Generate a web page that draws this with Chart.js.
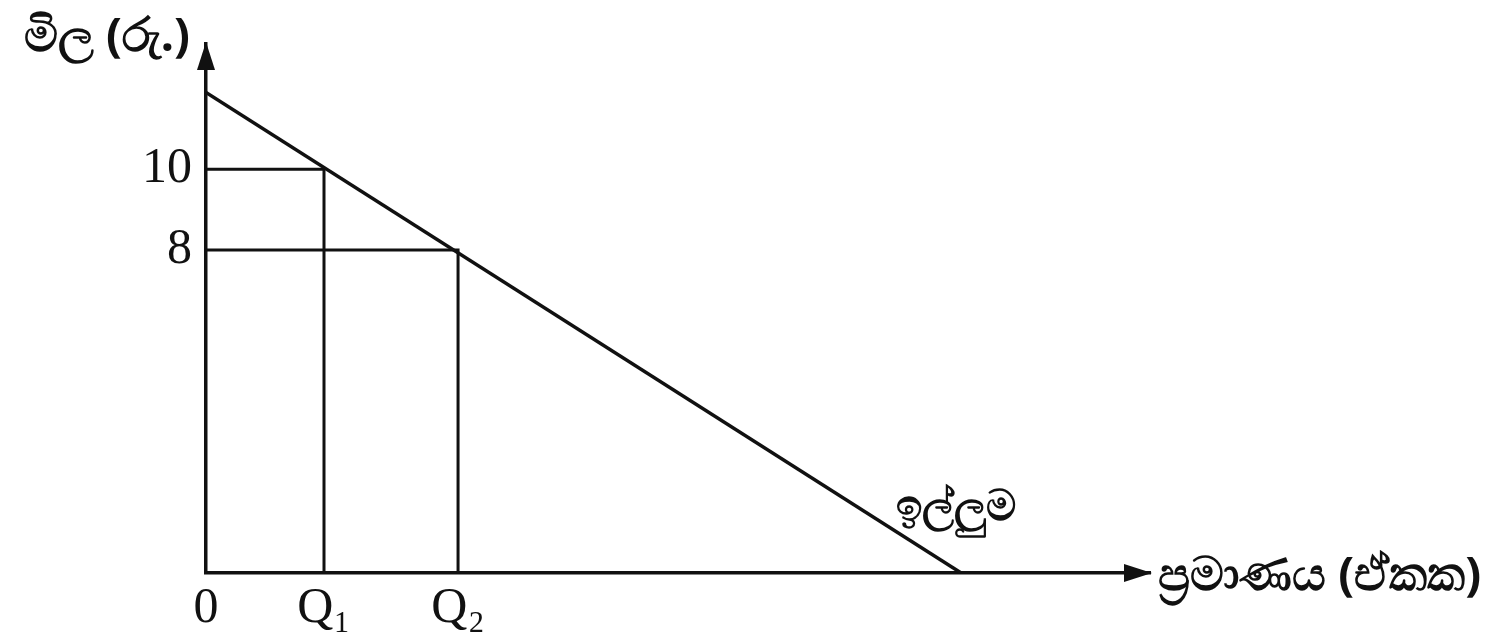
<!DOCTYPE html>
<html>
<head>
<meta charset="utf-8">
<script src="https://cdn.jsdelivr.net/npm/chart.js@4"></script>
<style>
  html, body { margin: 0; padding: 0; background: #fff; }
  #wrap { width: 1511px; height: 642px; }
</style>
</head>
<body>
<div id="wrap"><canvas id="chart"></canvas></div>
<script>
// values (arbitrary units, quantity axis 0..10)
const priceLevels = [10, 8];
const priceLabels = ["10", "8"];
const qtyLevels = [0, 1.25, 2.67];
const qtyLabels = ["0", "Q\u2081", "Q\u2082"];
const demandQty = [0, 8];
const demandPrice = [11.9, 0];

const yTitle = "මිල (රු.)";
const xTitle = "ප්‍රමාණය (ඒකක)";
const curveName = "ඉල්ලුම";

const serif = "'Liberation Serif', 'DejaVu Serif', serif";

const demand = demandQty.map((q, i) => ({ x: q, y: demandPrice[i] }));
// drop lines from the axis to the curve and back down
const guides = priceLevels.map((p, i) => [
  { x: 0, y: p },
  { x: qtyLevels[i + 1], y: p },
  { x: qtyLevels[i + 1], y: 0 }
]);

const lineStyle = { borderColor: "#111", borderWidth: 3.5, pointRadius: 0, fill: false, tension: 0 };

// arrows + texts
const extras = {
  id: "extras",
  afterDraw(chart) {
    const { ctx, chartArea: a, scales: { x, y } } = chart;
    ctx.save();
    ctx.fillStyle = "#111";
    // y arrow
    ctx.beginPath();
    ctx.moveTo(a.left, a.top - 2);
    ctx.lineTo(a.left - 9, a.top + 26);
    ctx.lineTo(a.left + 9, a.top + 26);
    ctx.closePath();
    ctx.fill();
    // x arrow
    ctx.beginPath();
    ctx.moveTo(a.right + 2, a.bottom);
    ctx.lineTo(a.right - 26, a.bottom - 9);
    ctx.lineTo(a.right - 26, a.bottom + 9);
    ctx.closePath();
    ctx.fill();

    ctx.font = "bold 47px 'Noto Sans', 'DejaVu Sans', sans-serif";
    ctx.textBaseline = "middle";
    ctx.textAlign = "right";
    ctx.fillText(yTitle, a.left - 16, a.top - 6);
    ctx.textAlign = "left";
    ctx.fillText(xTitle, a.right + 8, a.bottom + 4);

    ctx.font = "bold 42px 'Noto Sans', 'DejaVu Sans', sans-serif";
    ctx.textAlign = "center";
    ctx.fillText(curveName, x.getPixelForValue(7.95), y.getPixelForValue(1.6));
    ctx.restore();
  }
};

new Chart(document.getElementById("chart"), {
  type: "line",
  data: {
    datasets: [
      { data: demand, ...lineStyle },
      ...guides.map(g => ({ data: g, ...lineStyle, borderWidth: 3 }))
    ]
  },
  options: {
    responsive: true,
    maintainAspectRatio: false,
    animation: false,
    layout: { padding: { left: 0, right: 361, top: 38, bottom: 0 } },
    plugins: { legend: { display: false }, tooltip: { enabled: false } },
    scales: {
      x: {
        type: "linear",
        min: 0,
        max: 10,
        grid: { display: false, drawTicks: false },
        border: { display: true, color: "#111", width: 3.5 },
        afterBuildTicks: s => { s.ticks = qtyLevels.map(v => ({ value: v })); },
        afterFit: s => { s.height = 69; },
        ticks: {
          autoSkip: false,
          maxRotation: 0,
          padding: 6,
          color: "#111",
          font: { family: serif, size: 50 },
          callback: (v, i) => qtyLabels[i]
        }
      },
      y: {
        type: "linear",
        min: 0,
        max: 13.1,
        grid: { display: false, drawTicks: false },
        border: { display: true, color: "#111", width: 3.5 },
        afterBuildTicks: s => { s.ticks = priceLevels.map(v => ({ value: v })); },
        afterFit: s => { s.width = 206; },
        ticks: {
          autoSkip: false,
          padding: 14,
          color: "#111",
          font: { family: serif, size: 50 },
          callback: (v, i) => priceLabels[i]
        }
      }
    }
  },
  plugins: [extras]
});
</script>
</body>
</html>
